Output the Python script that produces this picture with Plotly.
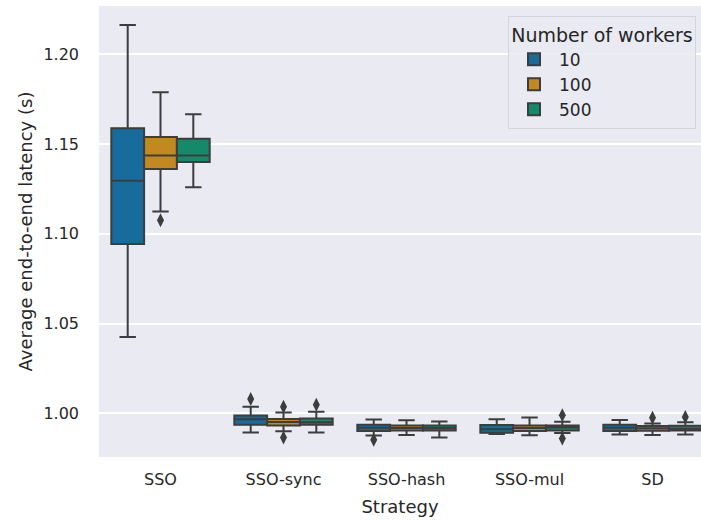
import plotly.graph_objects as go

categories = ["SSO", "SSO-sync", "SSO-hash", "SSO-mul", "SD"]
hue_levels = ["10", "100", "500"]
colors = ["#176c9c", "#c38820", "#158a6a"]

# precomputed box statistics per hue level (one value per strategy)
w10_lower = [1.0425, 0.9894, 0.9877, 0.9885, 0.9883]
w10_q1 = [1.0943, 0.9937, 0.9902, 0.9892, 0.9902]
w10_median = [1.1296, 0.9967, 0.9920, 0.9911, 0.9920]
w10_q3 = [1.1588, 0.9988, 0.9937, 0.9935, 0.9937]
w10_upper = [1.2163, 1.0037, 0.9966, 0.9967, 0.9963]
w10_outliers = [[], [1.0080], [0.9853], [], []]

w100_lower = [1.1125, 0.9901, 0.9879, 0.9878, 0.9879]
w100_q1 = [1.1361, 0.9933, 0.9904, 0.9902, 0.9903]
w100_median = [1.1437, 0.9952, 0.9918, 0.9918, 0.9917]
w100_q3 = [1.1539, 0.9968, 0.9933, 0.9933, 0.9930]
w100_upper = [1.1788, 1.0005, 0.9961, 0.9977, 0.9944]
w100_outliers = [[1.1075], [1.0037, 0.9866], [], [], [0.9976]]

w500_lower = [1.1259, 0.9894, 0.9866, 0.9890, 0.9883]
w500_q1 = [1.1400, 0.9937, 0.9904, 0.9904, 0.9904]
w500_median = [1.1437, 0.9950, 0.9918, 0.9922, 0.9915]
w500_q3 = [1.1530, 0.9972, 0.9933, 0.9933, 0.9931]
w500_upper = [1.1666, 1.0009, 0.9955, 0.9953, 0.9950]
w500_outliers = [[], [1.0048], [], [0.9990, 0.9860], [0.9980]]

y_ticks = [1.00, 1.05, 1.10, 1.15, 1.20]
y_ticklabels = ["1.00", "1.05", "1.10", "1.15", "1.20"]

stats = [
    (w10_lower, w10_q1, w10_median, w10_q3, w10_upper, w10_outliers),
    (w100_lower, w100_q1, w100_median, w100_q3, w100_upper, w100_outliers),
    (w500_lower, w500_q1, w500_median, w500_q3, w500_upper, w500_outliers),
]

line_gray = "#3d3d3d"
fig = go.Figure()
for name, color, (lo, q1, med, q3, up, outl) in zip(hue_levels, colors, stats):
    # plotly needs a non-empty sample row per box; the median is inside the
    # fences, so with boxpoints="outliers" it is never drawn as a point
    samples = [o if o else [m] for o, m in zip(outl, med)]
    fig.add_trace(go.Box(
        name=name,
        x=categories,
        y=samples,
        q1=q1, median=med, q3=q3,
        lowerfence=lo, upperfence=up,
        boxpoints="outliers",
        jitter=0, pointpos=0,
        fillcolor=color,
        line=dict(color=line_gray, width=2),
        whiskerwidth=0.5,
        marker=dict(symbol="diamond-tall", size=10, color=line_gray,
                    line=dict(width=0)),
        offsetgroup=name,
    ))

fig.update_layout(
    width=701, height=521,
    margin=dict(l=99, r=0, t=6, b=64),
    paper_bgcolor="white",
    plot_bgcolor="#eaeaf2",
    font=dict(family="DejaVu Sans", size=16, color="#262626"),
    boxmode="group", boxgap=0.2, boxgroupgap=0,
    showlegend=True,
    legend=dict(
        x=0.6794, y=0.978, xanchor="left", yanchor="top",
        bgcolor="rgba(234,234,242,0.9)", bordercolor="#d4d4dc", borderwidth=1,
        title=dict(text="Number of workers", font=dict(size=19), side="top center"),
        font=dict(size=17),
        itemwidth=40,
    ),
    xaxis=dict(
        type="category", categoryorder="array", categoryarray=categories,
        range=[-0.5, 4.394], showgrid=False, zeroline=False, showline=False,
        ticks="", tickfont=dict(size=16), ticklabelstandoff=11,
        title=dict(text="Strategy", font=dict(size=18), standoff=12),
    ),
    yaxis=dict(
        type="linear",
        range=[0.9757, 1.2269], tickvals=y_ticks, ticktext=y_ticklabels,
        showgrid=True, gridcolor="white", gridwidth=1.5, zeroline=False,
        showline=False, ticks="", tickfont=dict(size=16), ticklabelstandoff=19,
        title=dict(text="Average end-to-end latency (s)", font=dict(size=18), standoff=6),
    ),
)

fig.write_html("out.html", config={"displayModeBar": False},
               post_script="document.body.style.margin='0px';")
